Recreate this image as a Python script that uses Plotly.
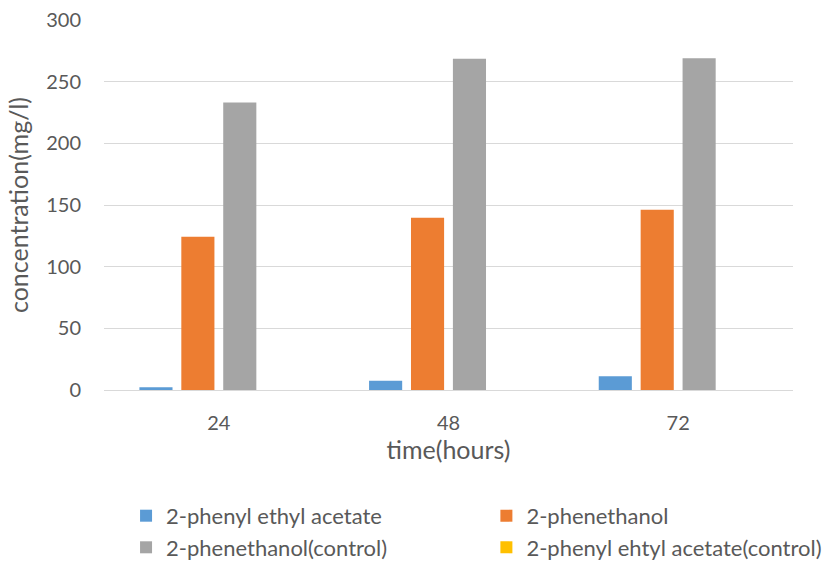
import plotly.graph_objects as go

# Sampling times (hours) and measured concentrations (mg/l)
times = ["24", "48", "72"]
pea = [2.2, 7.6, 11.1]                 # 2-phenyl ethyl acetate
phenethanol = [124.3, 139.7, 146.2]    # 2-phenethanol
phenethanol_ctrl = [233.2, 268.5, 269.0]
pea_ctrl = [0, 0, 0]                   # 2-phenyl ehtyl acetate(control)

# (name, values, colour, legend column)
series = [
    ("2-phenyl ethyl acetate", pea, "#5B9BD5", "legend"),
    ("2-phenethanol", phenethanol, "#ED7D31", "legend2"),
    ("2-phenethanol(control)", phenethanol_ctrl, "#A5A5A5", "legend"),
    ("2-phenyl ehtyl acetate(control)", pea_ctrl, "#FFC000", "legend2"),
]

FONT = "Lato, Carlito, 'Open Sans', sans-serif"
TEXT = "#595959"
GRID = "#D9D9D9"

fig = go.Figure()
for name, vals, color, leg in series:
    fig.add_trace(go.Bar(x=times, y=vals, name=name, marker_color=color,
                         marker_line_width=0, legend=leg))

legend_style = dict(orientation="v", xanchor="left", y=-0.2835, yanchor="top",
                    tracegroupgap=0, font=dict(size=22, color=TEXT),
                    traceorder="normal", bgcolor="rgba(0,0,0,0)")

fig.update_layout(
    width=827, height=561,
    margin=dict(l=104, r=34, t=20, b=171, autoexpand=False),
    paper_bgcolor="white", plot_bgcolor="white",
    font=dict(family=FONT, size=20, color=TEXT),
    barmode="group", bargap=0.27, bargroupgap=0.21,
    showlegend=True,
    legend=dict(x=0.032, **legend_style),
    legend2=dict(x=0.555, **legend_style),
)

fig.update_xaxes(
    showline=True, linecolor=GRID, linewidth=1, ticks="",
    ticklabelstandoff=15, tickfont=dict(size=20),
    title=dict(text="time(hours)", standoff=4, font=dict(size=25, color=TEXT)),
)
fig.update_yaxes(
    range=[0, 300], dtick=50, showgrid=True, gridcolor=GRID, gridwidth=1,
    zeroline=False, showline=False, ticks="", ticklabelstandoff=22,
    tickfont=dict(size=20),
    title=dict(text="concentration(mg/l)", standoff=10, font=dict(size=25, color=TEXT)),
)

fig.write_html("out.html")
